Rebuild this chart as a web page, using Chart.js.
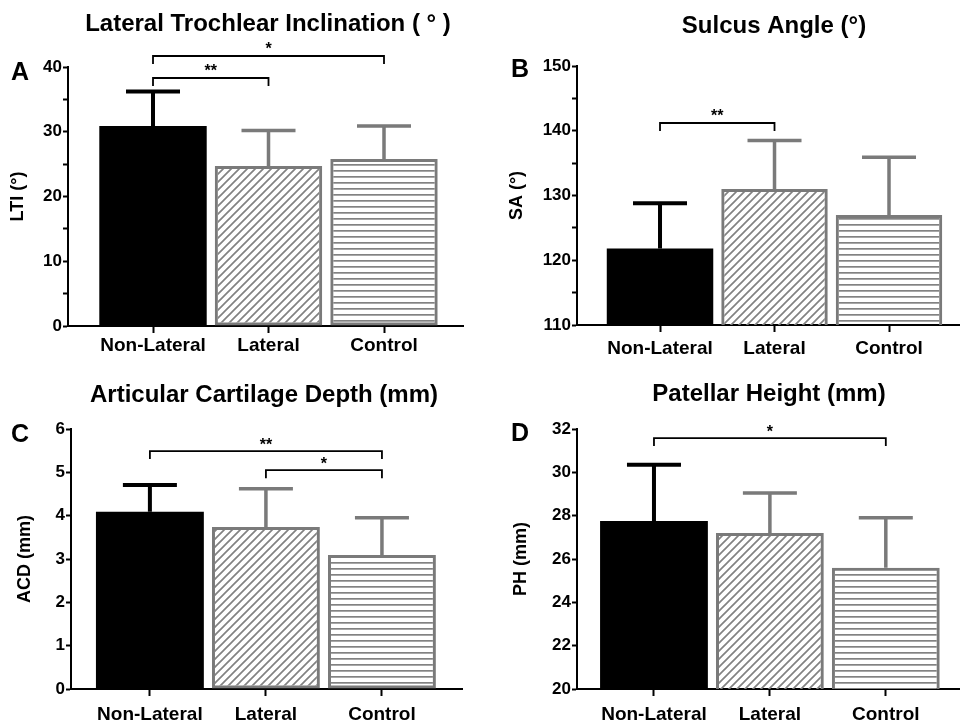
<!DOCTYPE html>
<html>
<head>
<meta charset="utf-8">
<script src="https://cdn.jsdelivr.net/npm/chart.js@4.4.1/dist/chart.umd.min.js"></script>
<style>
  html, body { margin: 0; padding: 0; background: #fff; }
  #wrap { position: relative; width: 960px; height: 724px; overflow: hidden; }
  #wrap canvas { position: absolute; }
</style>
</head>
<body>
<div id="wrap">
  <canvas id="panelA" width="480" height="362" style="left:0;top:0"></canvas>
  <canvas id="panelB" width="480" height="362" style="left:480px;top:0"></canvas>
  <canvas id="panelC" width="480" height="362" style="left:0;top:362px"></canvas>
  <canvas id="panelD" width="480" height="362" style="left:480px;top:362px"></canvas>
</div>
<script>
// --- Data ---
const CATEGORIES = ['Non-Lateral', 'Lateral', 'Control'];

const LTI_MEAN = [30.9, 24.7, 25.8];
const LTI_SD = [5.3, 5.5, 5.1];
const LTI_SIG = [[0, 2, 41.7, '*'], [0, 1, 38.3, '**']];

const SA_MEAN = [121.8, 131.0, 127.0];
const SA_SD = [7.0, 7.5, 8.9];
const SA_SIG = [[0, 1, 141.2, '**']];

const ACD_MEAN = [4.09, 3.74, 3.09];
const ACD_SD = [0.62, 0.88, 0.86];
const ACD_SIG = [[0, 2, 5.49, '**'], [1, 2, 5.05, '*']];

const PH_MEAN = [27.75, 27.2, 25.6];
const PH_SD = [2.6, 1.85, 2.3];
const PH_SIG = [[0, 2, 31.58, '*']];

// --- Styling ---
const FONT = '"Liberation Sans", Arial, sans-serif';
const GRAY = '#7a7a7a';

function makePattern(kind) {
    const c = document.createElement('canvas');
    const ctx = c.getContext('2d');
    if (kind === 'diag') {
        c.width = 8; c.height = 8;
        ctx.strokeStyle = '#828282';
        ctx.lineWidth = 1.7;
        ctx.beginPath();
        ctx.moveTo(0, 8); ctx.lineTo(8, 0);
        ctx.moveTo(-2, 2); ctx.lineTo(2, -2);
        ctx.moveTo(6, 10); ctx.lineTo(10, 6);
        ctx.stroke();
    } else {
        c.width = 4; c.height = 6;
        ctx.fillStyle = '#828282';
        ctx.fillRect(0, 2, 4, 1.7);
    }
    return ctx.createPattern(c, 'repeat');
}

// error bars, brackets, titles, panel letters
const panelDecor = {
    id: 'panelDecor',
    afterDatasetsDraw(chart, args, o) {
        const ctx = chart.ctx, ys = chart.scales.y;
        const bars = chart.getDatasetMeta(0).data;
        ctx.save();
        bars.forEach((bar, i) => {
            const top = ys.getPixelForValue(o.means[i] + o.sd[i]);
            ctx.strokeStyle = i === 0 ? '#000' : GRAY;
            ctx.lineWidth = i === 0 ? 4 : 3.5;
            ctx.beginPath();
            ctx.moveTo(bar.x, bar.y);
            ctx.lineTo(bar.x, top);
            ctx.moveTo(bar.x - 27, top);
            ctx.lineTo(bar.x + 27, top);
            ctx.stroke();
        });
        ctx.restore();
    },
    afterDraw(chart, args, o) {
        const ctx = chart.ctx, xs = chart.scales.x, ys = chart.scales.y;
        ctx.save();
        ctx.fillStyle = '#000';
        ctx.textAlign = 'center';
        ctx.textBaseline = 'middle';
        ctx.font = 'bold 24px ' + FONT;
        ctx.fillText(o.title, o.titlePos[0], o.titlePos[1]);
        ctx.font = 'bold 25px ' + FONT;
        ctx.fillText(o.letter, o.letterPos[0], o.letterPos[1]);

        ctx.strokeStyle = '#000';
        ctx.lineWidth = 1.8;
        o.sig.forEach(([a, b, level, label]) => {
            const x1 = xs.getPixelForValue(a), x2 = xs.getPixelForValue(b);
            const yy = ys.getPixelForValue(level);
            ctx.beginPath();
            ctx.moveTo(x1, yy + 8); ctx.lineTo(x1, yy);
            ctx.lineTo(x2, yy); ctx.lineTo(x2, yy + 8);
            ctx.stroke();
            ctx.font = 'bold 16px ' + FONT;
            ctx.textBaseline = 'bottom';
            ctx.fillText(label, (x1 + x2) / 2, yy + 2);
        });
        ctx.restore();
    }
};

function makePanel(id, p) {
    const canvas = document.getElementById(id);
    const diag = makePattern('diag'), horiz = makePattern('horiz');
    new Chart(canvas, {
        type: 'bar',
        data: {
            datasets: [{
                data: p.means.map((m, i) => ({ x: i, y: m })),
                backgroundColor: ['#000', diag, horiz],
                borderColor: ['#000', GRAY, GRAY],
                borderWidth: [0, 3, 3],
                borderSkipped: false,
                barPercentage: 0.93,
                categoryPercentage: 1
            }]
        },
        options: {
            responsive: false,
            animation: false,
            events: [],
            layout: { padding: { left: p.padLeft, top: p.top, right: p.right, bottom: 0 } },
            plugins: {
                legend: { display: false },
                tooltip: { enabled: false },
                panelDecor: {
                    means: p.means, sd: p.sd, sig: p.sig,
                    title: p.title, titlePos: p.titlePos,
                    letter: p.letter, letterPos: p.letterPos
                }
            },
            scales: {
                x: {
                    type: 'linear',
                    min: p.xMin, max: p.xMax,
                    offset: false,
                    afterBuildTicks: s => { s.ticks = CATEGORIES.map((c, i) => ({ value: i })); },
                    afterFit: s => { s.height = 362 - p.bottom; },
                    ticks: {
                        callback: v => CATEGORIES[v],
                        color: '#000',
                        font: { family: FONT, size: 19, weight: 'bold' },
                        padding: p.xPad,
                        autoSkip: false,
                        maxRotation: 0
                    },
                    grid: { offset: false, drawOnChartArea: false, tickLength: 7, tickColor: '#000', tickWidth: 2 },
                    border: { color: '#000', width: 2 }
                },
                y: {
                    min: p.yMin, max: p.yMax,
                    afterFit: s => { s.width = p.axisX - p.padLeft; },
                    ticks: {
                        stepSize: p.step,
                        callback: v => (v % p.labelEvery === 0 ? v : ''),
                        color: '#000',
                        font: { family: FONT, size: 17, weight: 'bold' },
                        padding: 1
                    },
                    title: {
                        display: true,
                        text: p.yTitle,
                        color: '#000',
                        font: { family: FONT, size: 18, weight: 'bold' },
                        padding: 3
                    },
                    grid: { drawOnChartArea: false, tickLength: 5, tickColor: '#000', tickWidth: 2 },
                    border: { color: '#000', width: 2 }
                }
            }
        },
        plugins: [panelDecor]
    });
}

makePanel('panelA', {
    means: LTI_MEAN, sd: LTI_SD, sig: LTI_SIG,
    title: 'Lateral Trochlear Inclination ( \u00b0 )', titlePos: [268, 24],
    letter: 'A', letterPos: [20, 73],
    yTitle: 'LTI (\u00b0)', yMin: 0, yMax: 40, step: 5, labelEvery: 10,
    padLeft: 4, axisX: 68, top: 67, bottom: 326, right: 17,
    xMin: -0.736, xMax: 2.684, xPad: 1
});

makePanel('panelB', {
    means: SA_MEAN, sd: SA_SD, sig: SA_SIG,
    title: 'Sulcus Angle (\u00b0)', titlePos: [294, 26],
    letter: 'B', letterPos: [40, 70],
    yTitle: 'SA (\u00b0)', yMin: 110, yMax: 150, step: 5, labelEvery: 10,
    padLeft: 23, axisX: 97, top: 66, bottom: 325, right: 0,
    xMin: -0.725, xMax: 2.62, xPad: 5
});

makePanel('panelC', {
    means: ACD_MEAN, sd: ACD_SD, sig: ACD_SIG,
    title: 'Articular Cartilage Depth (mm)', titlePos: [264, 33],
    letter: 'C', letterPos: [20, 73],
    yTitle: 'ACD (mm)', yMin: 0, yMax: 6, step: 1, labelEvery: 1,
    padLeft: 11, axisX: 71, top: 67, bottom: 327, right: 18,
    xMin: -0.68, xMax: 2.69, xPad: 7
});

makePanel('panelD', {
    means: PH_MEAN, sd: PH_SD, sig: PH_SIG,
    title: 'Patellar Height (mm)', titlePos: [289, 32],
    letter: 'D', letterPos: [40, 72],
    yTitle: 'PH (mm)', yMin: 20, yMax: 32, step: 1, labelEvery: 2,
    padLeft: 27, axisX: 97, top: 67, bottom: 327, right: 0,
    xMin: -0.664, xMax: 2.64, xPad: 7
});
</script>
</body>
</html>
